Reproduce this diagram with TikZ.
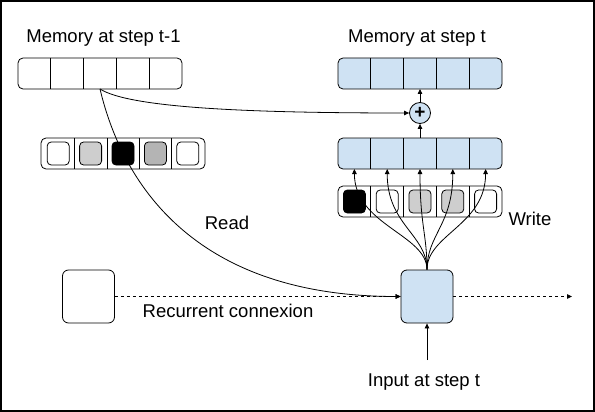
\documentclass[tikz,border=0pt]{standalone}
\usepackage{fontspec}
\setmainfont{Liberation Sans}
\usetikzlibrary{arrows.meta}
\definecolor{lblue}{HTML}{CFE2F3}
\definecolor{gl}{HTML}{CECECE}
\definecolor{gd}{HTML}{B4B4B4}
\begin{document}
\begin{tikzpicture}[x=1pt,y=-1pt, line width=0.8pt,
  arr/.style={-{Triangle[length=5pt,width=4.5pt]}},
  lbl/.style={font=\fontsize{18.5}{20}\selectfont, inner sep=0, anchor=base},
  bar/.style={draw, rounded corners=5pt, minimum width=164pt, minimum height=31pt, inner sep=0, outer sep=0},
  cell/.style={minimum width=32.8pt, minimum height=31pt, inner sep=0, outer sep=0},
  sq/.style={draw, rounded corners=4pt, minimum width=22pt, minimum height=23pt, inner sep=0},
  blk/.style={draw, rounded corners=6pt, minimum width=52pt, minimum height=53pt, inner sep=0},
  dsh/.style={dash pattern=on 3pt off 3pt}]
\useasboundingbox (0,0) rectangle (595,412);
\draw[line width=2pt] (1,1) rectangle (594,411);

% labels
\node[lbl] (tA) at (103.5,43) {Memory at step t-1};
\node[lbl] (tT) at (417,43) {Memory at step t};
\node[lbl] (tR) at (227,229) {Read};
\node[lbl] (tW) at (530,225) {Write};
\node[lbl] (tC) at (228,317) {Recurrent connexion};
\node[lbl] (tI) at (424,386) {Input at step t};

% memory t-1
\node[bar] (mA) at (100,73.5) {};
\foreach \i in {1,...,5} \node[cell] (mA\i) at ({100+(\i-3)*32.8},73.5) {};
\foreach \i in {1,...,4} \draw (mA\i.north east) -- (mA\i.south east);

% memory t
\node[bar, fill=lblue] (mT) at (420,73.5) {};
\foreach \i in {1,...,5} \node[cell] (mT\i) at ({420+(\i-3)*32.8},73.5) {};
\foreach \i in {1,...,4} \draw (mT\i.north east) -- (mT\i.south east);

% intermediate memory
\node[bar, fill=lblue] (mB) at (420,153.5) {};
\foreach \i in {1,...,5} \node[cell] (mB\i) at ({420+(\i-3)*32.8},153.5) {};
\foreach \i in {1,...,4} \draw (mB\i.north east) -- (mB\i.south east);

% read weights
\node[bar] (rw) at (123,153.5) {};
\foreach \i in {1,...,5} \node[cell] (rw\i) at ({123+(\i-3)*32.4},153.5) {};
\foreach \i in {1,...,4} \draw (rw\i.north east) -- (rw\i.south east);
\foreach \i/\c in {1/white,2/gl,3/black,4/gd,5/white}
  \node[sq, fill=\c] (rs\i) at (rw\i) {};

% write weights
\node[bar] (ww) at (420,201.5) {};
\foreach \i in {1,...,5} \node[cell] (ww\i) at ({420+(\i-3)*32.8},201.5) {};
\foreach \i in {1,...,4} \draw (ww\i.north east) -- (ww\i.south east);
\foreach \i/\c in {1/black,2/white,3/gl,4/gl,5/white}
  \node[sq, fill=\c] (ws\i) at (ww\i) {};

% plus
\node[draw, circle, fill=lblue, minimum size=21pt, inner sep=0] (plus) at (420,113) {\fontsize{19}{19}\selectfont\bfseries +};

% controller and previous state
\node[blk, fill=lblue] (ctrl) at (427,296.5) {};
\node[blk] (prev) at (88.5,296.5) {};
\coordinate (outR) at (572,296.5);
\coordinate (inB) at (427,360);

% connectors
\draw[arr] (mA3.south) .. controls (130,108) and (250,113) .. (plus.west);
\draw[arr] (mA3.south) .. controls (124,190) and (200,296.5) .. (ctrl.west);
\draw[arr] (plus.north) -- (mT.south);
\draw[arr] (mB.north) -- (plus.south);
\foreach \i in {1,...,5}
  \draw[arr] (ctrl.north) .. controls +(0,-35) and +(0,56) .. (mB\i.south);
\draw[arr, dsh] (prev.east) -- (ctrl.west);
\draw[arr, dsh] (ctrl.east) -- (outR);
\draw[arr] (inB) -- (ctrl.south);
\end{tikzpicture}
\end{document}
